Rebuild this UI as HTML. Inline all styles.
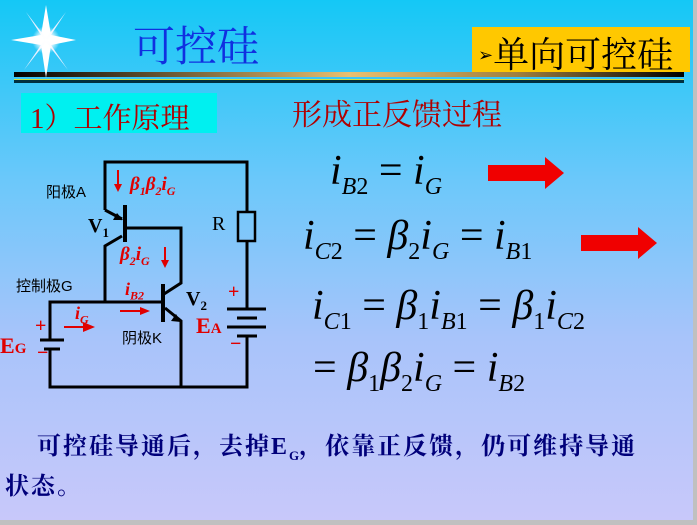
<!DOCTYPE html>
<html><head><meta charset="utf-8"><style>
body{margin:0;width:697px;height:525px;overflow:hidden;}
#bg{position:absolute;left:0;top:0;width:693px;height:520px;background:linear-gradient(#14c8f6 0%,#6cc8fa 35%,#a8c4fa 65%,#c8c8fa 100%);}
.t{position:absolute;white-space:nowrap;font-family:"Liberation Serif","Noto Serif CJK SC",serif;}
.m{position:absolute;white-space:nowrap;font-family:"Liberation Serif","DejaVu Serif",serif;font-size:42px;color:#000;}
.m i{font-style:italic;font-family:"Liberation Serif","DejaVu Serif",serif}
.m sub{font-size:24px;vertical-align:-10px}
</style></head><body>
<div style="position:absolute;left:0;top:0;width:697px;height:525px;background:#c0c0c0"></div>
<div id="bg"></div>
<svg style="position:absolute;left:0;top:0" width="697" height="525">
<defs>
<linearGradient id="ln" x1="0" x2="1"><stop offset="0" stop-color="#000"/><stop offset="0.5" stop-color="#e8c070"/><stop offset="0.75" stop-color="#a08040"/><stop offset="1" stop-color="#000"/></linearGradient>
<radialGradient id="st"><stop offset="0" stop-color="#fff"/><stop offset="0.5" stop-color="#fff" stop-opacity=".9"/><stop offset="1" stop-color="#fff" stop-opacity="0"/></radialGradient>
</defs>
<rect x="14" y="72" width="670" height="5" fill="url(#ln)"/>
<rect x="14" y="80" width="670" height="3" fill="#003040"/>
<rect x="14" y="79" width="670" height="1" fill="#d0e040"/>
<g transform="translate(46,40)" fill="#fff">
<polygon points="0,-35 5,-5 30,0 5,5 0,38 -5,5 -35,0 -5,-5"/>
<polygon points="20,-28 3,-2 -22,30 -3,2" fill="#e8f0ff"/>
<polygon points="-20,-28 -3,-2 22,30 3,2" fill="#e8f0ff"/>
<circle r="14" fill="url(#st)"/>
</g>
<rect x="472" y="27" width="218" height="45" fill="#ffc800"/>
<rect x="21" y="93" width="196" height="40" fill="#00f0f0"/>
<g stroke="#000" stroke-width="3" fill="none">
<polyline points="105,210 105,162 247,162 247,212"/>
<rect x="238" y="212" width="17" height="29" stroke-width="2.5"/>
<line x1="247" y1="241" x2="247" y2="309"/>
<line x1="227" y1="309" x2="266" y2="309"/>
<line x1="237" y1="318" x2="257" y2="318"/>
<line x1="227" y1="327" x2="266" y2="327"/>
<line x1="237" y1="336" x2="257" y2="336"/>
<polyline points="247,336 247,387 50,387 50,348"/>
<line x1="40" y1="340" x2="64" y2="340"/>
<line x1="44" y1="349" x2="60" y2="349"/>
<polyline points="50,340 50,302 163,302"/>
<line x1="105" y1="210" x2="122" y2="219"/>
<line x1="125" y1="205" x2="125" y2="242" stroke-width="4"/>
<polyline points="122,236 105,246 105,302"/>
<polyline points="125,228 181,228 181,283 164,294"/>
<line x1="163" y1="284" x2="163" y2="322" stroke-width="4"/>
<polyline points="165,308 181,321 181,387"/>
</g>
<polygon points="123,220 113,220 117,213" fill="#000"/>
<polygon points="181,322 171,321 176,314" fill="#000"/>
<g fill="#e00000" stroke="#e00000" stroke-width="2">
<line x1="118" y1="170" x2="118" y2="186"/><polygon points="114,184 122,184 118,192" stroke="none"/>
<line x1="165" y1="247" x2="165" y2="262"/><polygon points="161,260 169,260 165,268" stroke="none"/>
<line x1="120" y1="311" x2="142" y2="311"/><polygon points="140,307 150,311 140,315" stroke="none"/>
<line x1="64" y1="327" x2="85" y2="327"/><polygon points="83,322 95,327 83,332" stroke="none"/>
</g>
<polygon points="488,165 545,165 545,157 564,173 545,189 545,181 488,181" fill="#f00000"/>
<polygon points="581,235 638,235 638,227 657,243 638,259 638,251 581,251" fill="#f00000"/>
</svg>
<div class="t" style="left:133px;top:14px;font-size:42px;color:#1030e0">可控硅</div>
<div class="t" style="left:478px;top:27px;font-size:36px;color:#000"><span style="font-size:18px;vertical-align:6px">➢</span>单向可控硅</div>
<div class="t" style="left:30px;top:96px;font-size:29px;color:#b00000">1）工作原理</div>
<div class="t" style="left:292px;top:90px;font-size:30px;color:#b00000">形成正反馈过程</div>
<div class="t" style="left:46px;top:181px;font-size:15px;font-family:'Liberation Sans','Noto Sans CJK SC',sans-serif">阳极A</div>
<div class="t" style="left:88px;top:215px;font-size:20px;font-weight:bold">V<sub style="font-size:13px">1</sub></div>
<div class="t" style="left:212px;top:213px;font-size:20px">R</div>
<div class="t" style="left:130px;top:174px;font-size:19px;color:#e00000;font-weight:bold;font-style:italic">β<sub style="font-size:12px">1</sub>β<sub style="font-size:12px">2</sub>i<sub style="font-size:12px">G</sub></div>
<div class="t" style="left:120px;top:244px;font-size:19px;color:#e00000;font-weight:bold;font-style:italic">β<sub style="font-size:12px">2</sub>i<sub style="font-size:12px">G</sub></div>
<div class="t" style="left:16px;top:275px;font-size:15px;font-family:'Liberation Sans','Noto Sans CJK SC',sans-serif">控制极G</div>
<div class="t" style="left:125px;top:279px;font-size:18px;color:#e00000;font-weight:bold;font-style:italic">i<sub style="font-size:12px">B2</sub></div>
<div class="t" style="left:186px;top:288px;font-size:20px;font-weight:bold">V<sub style="font-size:13px">2</sub></div>
<div class="t" style="left:75px;top:303px;font-size:18px;color:#e00000;font-weight:bold;font-style:italic">i<sub style="font-size:12px">G</sub></div>
<div class="t" style="left:122px;top:327px;font-size:15px;font-family:'Liberation Sans','Noto Sans CJK SC',sans-serif">阴极K</div>
<div class="t" style="left:196px;top:313px;font-size:22px;color:#e00000;font-weight:bold">E<span style="font-size:15px">A</span></div>
<div class="t" style="left:228px;top:281px;font-size:20px;color:#e00000;font-weight:bold">+</div>
<div class="t" style="left:230px;top:333px;font-size:20px;color:#e00000;font-weight:bold">−</div>
<div class="t" style="left:0px;top:333px;font-size:22px;color:#e00000;font-weight:bold">E<span style="font-size:15px">G</span></div>
<div class="t" style="left:35px;top:315px;font-size:20px;color:#e00000;font-weight:bold">+</div>
<div class="t" style="left:37px;top:342px;font-size:20px;color:#e00000;font-weight:bold">−</div>
<div class="m" style="left:330px;top:147px"><i>i</i><sub><i>B</i>2</sub> = <i>i</i><sub><i>G</i></sub></div>
<div class="m" style="left:303px;top:212px"><i>i</i><sub><i>C</i>2</sub> = <i>β</i><sub>2</sub><i>i</i><sub><i>G</i></sub> = <i>i</i><sub><i>B</i>1</sub></div>
<div class="m" style="left:312px;top:282px"><i>i</i><sub><i>C</i>1</sub> = <i>β</i><sub>1</sub><i>i</i><sub><i>B</i>1</sub> = <i>β</i><sub>1</sub><i>i</i><sub><i>C</i>2</sub></div>
<div class="m" style="left:313px;top:344px">= <i>β</i><sub>1</sub><i>β</i><sub>2</sub><i>i</i><sub><i>G</i></sub> = <i>i</i><sub><i>B</i>2</sub></div>
<div class="t" style="left:37px;top:426px;font-size:24px;letter-spacing:2px;color:#00007a;font-weight:bold">可控硅导通后，去掉E<sub style="font-size:13px;letter-spacing:0">G</sub>，依靠正反馈，仍可维持导通</div>
<div class="t" style="left:5px;top:466px;font-size:24px;letter-spacing:2px;color:#00007a;font-weight:bold">状态。</div>
</body></html>
